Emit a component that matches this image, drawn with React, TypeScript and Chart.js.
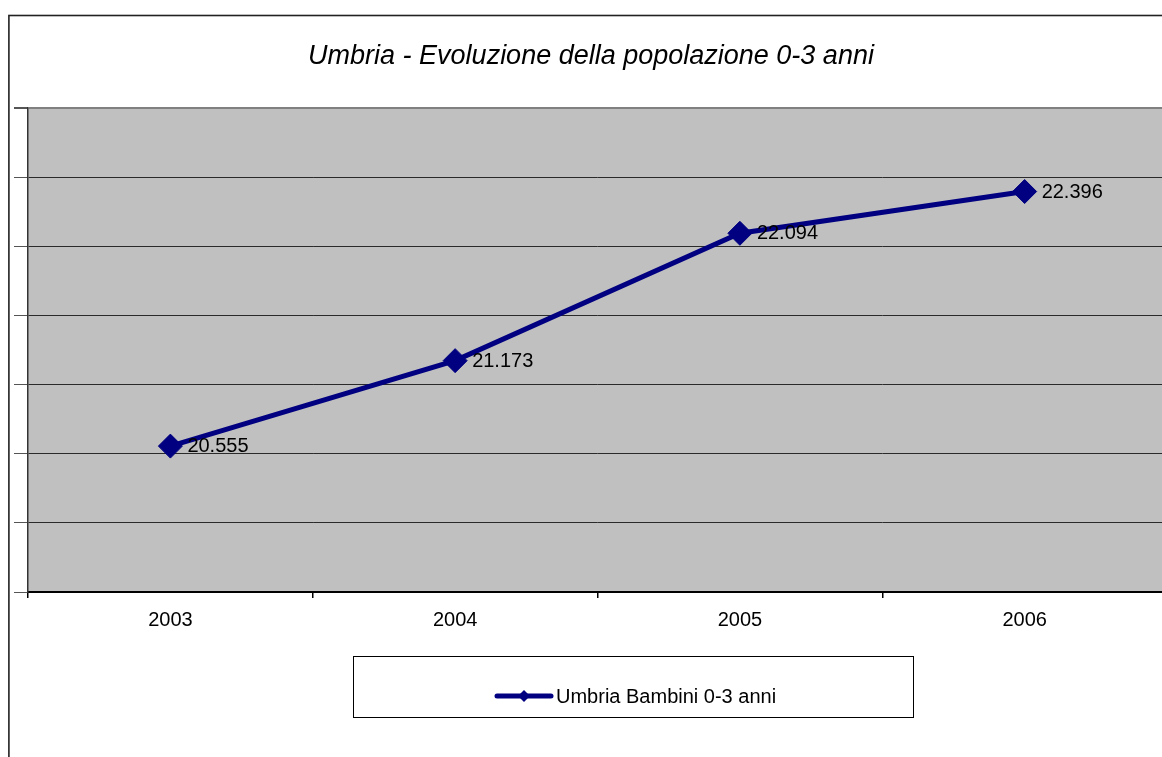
import { useEffect, useRef } from "react";
import { Chart, registerables } from "chart.js";

Chart.register(...registerables);

const years = ["2003", "2004", "2005", "2006"];
const bambini = [20555, 21173, 22094, 22396];
const seriesName = "Umbria Bambini 0-3 anni";
const chartTitle = "Umbria - Evoluzione della popolazione 0-3 anni";
const yMin = 19500;
const yMax = 23000;
const yStep = 500;

const FONT = "'Liberation Sans', Arial, sans-serif";
const NAVY = "#000080";

function fmt(v: number): string {
  return String(v).replace(/\B(?=(\d{3})+(?!\d))/g, ".");
}

const decor = {
  id: "decor",
  beforeDraw(chart: any) {
    const { ctx, chartArea } = chart;
    ctx.save();
    ctx.fillStyle = "#ffffff";
    ctx.fillRect(0, 0, chart.width, chart.height);
    ctx.fillStyle = "#C0C0C0";
    ctx.fillRect(chartArea.left, chartArea.top, chartArea.right - chartArea.left, chartArea.bottom - chartArea.top);
    ctx.strokeStyle = "#222222";
    ctx.lineWidth = 1.6;
    ctx.strokeRect(8.9, 15.5, 3000, 3000);
    ctx.restore();
  },
  afterDatasetsDraw(chart: any) {
    const { ctx } = chart;
    const meta = chart.getDatasetMeta(0);
    const data = chart.data.datasets[0].data as number[];
    ctx.save();
    ctx.font = `20px ${FONT}`;
    ctx.fillStyle = "#000000";
    ctx.textAlign = "left";
    ctx.textBaseline = "middle";
    meta.data.forEach((pt: any, i: number) => {
      ctx.fillText(fmt(data[i]), pt.x + 17, pt.y + 0.5);
    });
    ctx.restore();
  },
  afterDraw(chart: any) {
    const { ctx } = chart;
    const bx = 353.5, by = 656.5, bw = 560, bh = 61;
    ctx.save();
    ctx.fillStyle = "#ffffff";
    ctx.fillRect(bx, by, bw, bh);
    ctx.strokeStyle = "#000000";
    ctx.lineWidth = 1;
    ctx.strokeRect(bx, by, bw, bh);
    const cy = 696;
    ctx.strokeStyle = NAVY;
    ctx.lineWidth = 5;
    ctx.lineCap = "round";
    ctx.beginPath();
    ctx.moveTo(497, cy);
    ctx.lineTo(551, cy);
    ctx.stroke();
    ctx.fillStyle = NAVY;
    const r = 6;
    ctx.beginPath();
    ctx.moveTo(524 - r, cy);
    ctx.lineTo(524, cy - r);
    ctx.lineTo(524 + r, cy);
    ctx.lineTo(524, cy + r);
    ctx.closePath();
    ctx.fill();
    ctx.font = `20px ${FONT}`;
    ctx.fillStyle = "#000000";
    ctx.textAlign = "left";
    ctx.textBaseline = "middle";
    ctx.fillText(chart.data.datasets[0].label, 556, cy + 1);
    ctx.restore();
  },
};

export default function App() {
  const ref = useRef<HTMLCanvasElement | null>(null);

  useEffect(() => {
    if (!ref.current) return;
    const chart = new Chart(ref.current, {
      type: "line",
      data: {
        labels: years,
        datasets: [
          {
            label: seriesName,
            data: bambini,
            borderColor: NAVY,
            backgroundColor: NAVY,
            borderWidth: 5,
            pointStyle: "rectRot",
            pointRadius: 12,
            pointBackgroundColor: NAVY,
            pointBorderColor: NAVY,
            pointBorderWidth: 1,
            tension: 0,
            fill: false,
          },
        ],
      },
      options: {
        animation: false,
        responsive: false,
        events: [],
        layout: { padding: { left: 14, right: 12, top: 0, bottom: 115 } },
        plugins: {
          legend: { display: false },
          tooltip: { enabled: false },
          title: {
            display: true,
            text: chartTitle,
            color: "#000000",
            font: { family: FONT, size: 27, style: "italic", weight: "normal" },
            padding: { top: 39.8, bottom: 35.8 },
          },
        },
        scales: {
          x: {
            type: "category",
            offset: true,
            grid: {
              offset: true,
              drawOnChartArea: false,
              drawTicks: true,
              tickLength: 6,
              color: "#000000",
              tickColor: "#000000",
              lineWidth: 1.5,
            },
            border: { color: "#000000", width: 2 },
            ticks: { color: "#000000", font: { family: FONT, size: 20 }, padding: 10 },
            afterFit(scale: any) {
              scale.height = 50;
            },
          },
          y: {
            min: yMin,
            max: yMax,
            ticks: { stepSize: yStep, display: false },
            grid: {
              color: (c: any) => (c.tick && c.tick.value === yMax ? "#808080" : "#2a2a2a"),
              lineWidth: (c: any) => (c.tick && c.tick.value === yMax ? 2 : 1),
              drawTicks: true,
              tickLength: 14,
              tickColor: "#555555",
            },
            border: { color: "#333333", width: 1.5 },
            afterFit(scale: any) {
              scale.width = 14;
            },
          },
        },
      },
      plugins: [decor],
    });
    return () => chart.destroy();
  }, []);

  return (
    <div style={{ position: "fixed", left: 0, top: 0, width: 1162, height: 757, overflow: "hidden", background: "#fff" }}>
      <canvas ref={ref} width={1180} height={757} style={{ display: "block" }} />
    </div>
  );
}
